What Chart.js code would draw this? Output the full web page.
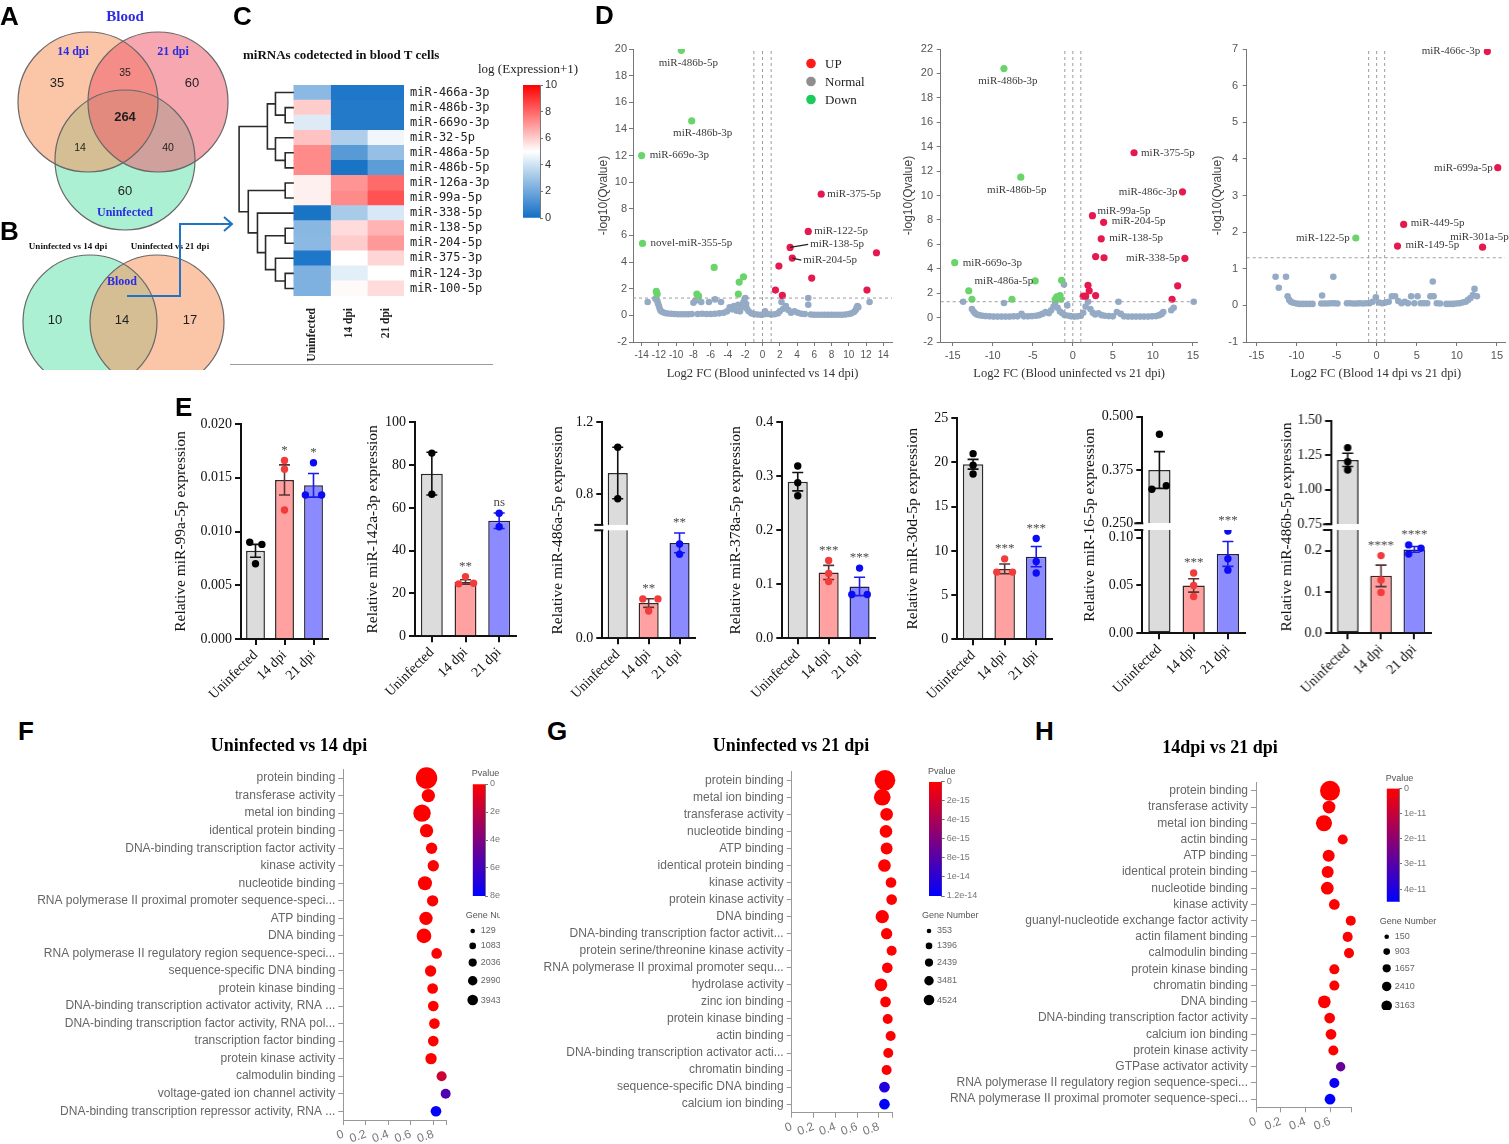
<!DOCTYPE html>
<html>
<head>
<meta charset="utf-8">
<title>miRNA figure</title>
<script src="https://cdn.jsdelivr.net/npm/chart.js@4.4.1/dist/chart.umd.min.js"></script>
<style>
  html, body { margin: 0; padding: 0; background: #fff; }
  #fig { position: relative; width: 1509px; height: 1144px; overflow: hidden; background: #fff; }
  #fig canvas { position: absolute; }
  .txt { position: absolute; white-space: nowrap; line-height: 1; }
  .panel { font: bold 26px "Liberation Sans", Arial, sans-serif; color: #000; }
  .ptitle { font: bold 18px "Liberation Serif", "Times New Roman", serif; color: #000; }
</style>
</head>
<body>
<div id="fig"></div>
<script>
// ---------- A: Venn of miRNAs detected in blood ----------
const vennASets = ['21 dpi', '14 dpi', 'Uninfected'];
const vennAX = [158, 88, 125];
const vennAY = [102, 102, 160];
const vennARadius = 70;
const vennACounts = [35, 35, 60, 264, 14, 40, 60]; // 14 only, 14&21, 21 only, all, 14&unin, 21&unin, unin only

// ---------- B: Venn of the two comparisons ----------
const vennBSets = ['Uninfected vs 21 dpi', 'Uninfected vs 14 dpi'];
const vennBX = [157, 90];
const vennBY = [322, 322];
const vennBRadius = 67;
const vennBCounts = [10, 14, 17];

// ---------- C: heatmap ----------
const heatRows = ['miR-466a-3p', 'miR-486b-3p', 'miR-669o-3p', 'miR-32-5p', 'miR-486a-5p', 'miR-486b-5p', 'miR-126a-3p',
  'miR-99a-5p', 'miR-338-5p', 'miR-138-5p', 'miR-204-5p', 'miR-375-3p', 'miR-124-3p', 'miR-100-5p'];
const heatCols = ['Uninfected', '14 dpi', '21 dpi'];
const heatUninfected = [2.6, 6.0, 4.3, 6.2, 7.3, 7.3, 5.3, 5.3, 0.2, 2.5, 2.6, 0.3, 2.3, 2.3];
const heat14dpi = [0.3, 0.4, 0.4, 3.3, 1.5, 0.2, 7.1, 7.3, 3.2, 5.7, 6.0, 5.0, 4.4, 5.1];
const heat21dpi = [0.3, 0.4, 0.4, 4.7, 2.8, 1.6, 7.9, 8.4, 4.2, 6.5, 7.0, 5.8, 5.0, 5.7];
const heatTicks = [0, 2, 4, 6, 8, 10];
// row clustering: [child a, child b, merge height]; new clusters get ids 14, 15, ...
const heatTree = [[1, 2, 0.235], [0, 14, 0.5], [4, 5, 0.235], [3, 16, 0.5], [15, 17, 0.72], [6, 7, 0.235],
  [9, 10, 0.235], [12, 13, 0.235], [11, 21, 0.5], [20, 22, 0.77], [8, 23, 0.99], [19, 24, 1.24], [18, 25, 1.49]];

// ---------- D: volcano plots ----------
const fcCut = [-1, 0, 1];
const qCut = 1.3;
const d1Up = [[6.8, 9.1], [5.3, 6.3], [3.2, 5.1], [3.45, 4.3], [13.2, 4.7], [1.9, 3.7], [5.7, 2.8], [1.5, 1.9], [2.3, 1.5], [12.1, 1.9]];
const d1UpNames = ['miR-375-5p', 'miR-122-5p', 'miR-138-5p', 'miR-204-5p', '', '', '', '', '', ''];
const d1Down = [[-9.4, 19.9], [-8.2, 14.6], [-14.0, 12.0], [-13.9, 5.4], [-5.6, 3.6], [-2.2, 2.9], [-2.7, 2.5], [-2.8, 1.6],
  [-12.3, 1.8], [-12.2, 1.6], [-7.6, 1.6], [-7.4, 1.45]];
const d1DownNames = ['miR-486b-5p', 'miR-486b-3p', 'miR-669o-3p', 'novel-miR-355-5p', '', '', '', '', '', '', '', ''];
const d1Normal = [[-13.3, 1.0], [-12.4, 1.25], [-12.2, 1.1], [-12.1, 0.9], [-12.0, 0.7], [-11.9, 0.5], [-11.8, 0.35], [-11.6, 0.25],
  [-11.3, 0.18], [-11.0, 0.14], [-10.6, 0.12], [-10.2, 0.1], [-9.8, 0.08], [-9.4, 0.08], [-9.0, 0.08], [-8.6, 0.08], [-8.2, 0.1],
  [-8.0, 0.95], [-7.8, 1.1], [-7.5, 0.1], [-7.1, 1.0], [-7.0, 0.12], [-6.5, 0.1], [-6.2, 1.0], [-6.0, 0.1], [-5.5, 1.2], [-5.5, 0.12],
  [-5.0, 0.15], [-4.8, 1.0], [-4.5, 0.2], [-4.1, 0.3], [-3.8, 0.6], [-3.5, 0.45], [-3.3, 0.7], [-3.0, 0.35], [-2.8, 0.8], [-2.6, 0.3],
  [-2.4, 0.6], [-2.2, 1.0], [-2.0, 1.3], [-1.9, 0.85], [-1.8, 0.5], [-1.6, 0.3], [-1.3, 0.15], [-1.0, 0.1], [-0.6, 0.06], [-0.2, 0.05],
  [0.2, 0.08], [0.3, 0.3], [0.6, 0.1], [1.0, 0.06], [1.4, 0.08], [1.8, 0.15], [2.0, 0.3], [2.2, 1.0], [2.4, 0.5], [2.7, 0.7], [3.0, 0.4],
  [3.3, 0.2], [3.7, 0.3], [4.1, 0.2], [4.5, 0.12], [4.9, 0.1], [5.3, 1.3], [5.3, 0.8], [5.6, 0.06], [6.0, 0.05], [6.4, 0.05], [6.8, 0.05],
  [7.2, 0.05], [7.6, 0.05], [8.0, 0.05], [8.4, 0.05], [8.8, 0.05], [9.2, 0.05], [9.6, 0.06], [10.0, 0.1], [10.3, 0.15], [10.6, 0.25],
  [10.8, 0.4], [10.9, 0.55], [11.0, 0.7], [11.1, 0.6], [12.4, 1.0]];
const d1XTicks = [-14, -12, -10, -8, -6, -4, -2, 0, 2, 4, 6, 8, 10, 12, 14];
const d1YTicks = [-2, 0, 2, 4, 6, 8, 10, 12, 14, 16, 18, 20];

const d2Up = [[7.65, 13.5], [13.7, 10.3], [2.45, 8.35], [3.85, 7.8], [3.55, 6.45], [14.0, 4.85], [2.85, 5.0], [3.9, 4.9], [1.9, 2.65],
  [2.05, 2.2], [1.3, 1.75], [1.6, 1.75], [2.85, 1.8], [13.1, 2.6], [12.4, 1.5]];
const d2UpNames = ['miR-375-5p', 'miR-486c-3p', 'miR-99a-5p', 'miR-204-5p', 'miR-138-5p', 'miR-338-5p', '', '', '', '', '', '', '', '', ''];
const d2Down = [[-8.6, 20.4], [-6.5, 11.5], [-14.75, 4.5], [-4.7, 3.0], [-1.4, 3.05], [-13.0, 2.2], [-12.6, 1.5], [-7.6, 1.5],
  [-2.2, 1.5], [-2.0, 1.7], [-1.8, 1.6], [-1.6, 1.8], [-1.5, 1.5]];
const d2DownNames = ['miR-486b-3p', 'miR-486b-5p', 'miR-669o-3p', 'miR-486a-5p', '', '', '', '', '', '', '', '', ''];
const d2Normal = [[-13.7, 1.3], [-12.6, 0.7], [-12.4, 0.5], [-12.2, 0.35], [-12.0, 0.25], [-11.7, 0.2], [-11.3, 0.15], [-10.9, 0.12],
  [-10.4, 0.1], [-9.9, 0.08], [-9.4, 0.08], [-8.9, 0.08], [-8.6, 1.2], [-8.4, 0.08], [-7.9, 0.08], [-7.4, 0.1], [-6.9, 0.1], [-6.4, 0.3],
  [-6.1, 0.1], [-5.6, 0.1], [-5.1, 0.12], [-4.6, 0.15], [-4.2, 0.2], [-3.8, 0.3], [-3.4, 0.45], [-3.0, 0.35], [-2.7, 0.6], [-2.4, 0.9],
  [-2.2, 1.2], [-1.9, 0.8], [-1.6, 0.5], [-1.3, 0.35], [-1.1, 2.7], [-1.0, 0.2], [-0.7, 1.0], [-0.5, 0.15], [-0.2, 0.1], [0.2, 0.08],
  [0.6, 0.1], [1.0, 0.15], [1.3, 0.4], [1.6, 0.9], [1.9, 1.3], [2.2, 0.7], [2.5, 0.4], [2.8, 0.25], [3.2, 0.35], [3.6, 0.2], [4.0, 0.15],
  [4.5, 0.12], [5.0, 0.1], [5.5, 0.45], [5.7, 1.3], [6.0, 0.3], [6.4, 0.1], [6.9, 0.08], [7.4, 0.08], [7.9, 0.08], [8.4, 0.08], [8.9, 0.08],
  [9.4, 0.08], [9.9, 0.1], [10.4, 0.12], [10.8, 0.2], [11.1, 0.3], [11.3, 0.45], [12.3, 0.6], [12.6, 0.8], [15.1, 1.3]];
const d2XTicks = [-15, -10, -5, 0, 5, 10, 15];
const d2YTicks = [-2, 0, 2, 4, 6, 8, 10, 12, 14, 16, 18, 20, 22];

const d3Up = [[13.8, 6.93], [15.1, 3.76], [3.37, 2.21], [2.6, 1.62], [13.2, 1.59]];
const d3UpNames = ['miR-466c-3p', 'miR-699a-5p', 'miR-449-5p', 'miR-149-5p', 'miR-301a-5p'];
const d3Down = [[-2.6, 1.84]];
const d3DownNames = ['miR-122-5p'];
const d3Normal = [[-12.6, 0.78], [-12.2, 0.48], [-11.3, 0.78], [-11.1, 0.25], [-10.9, 0.15], [-10.7, 0.1], [-10.4, 0.07], [-10.0, 0.05],
  [-9.6, 0.04], [-9.2, 0.04], [-8.8, 0.04], [-8.4, 0.04], [-8.0, 0.04], [-6.8, 0.27], [-6.9, 0.05], [-6.5, 0.05], [-6.1, 0.05],
  [-5.7, 0.06], [-5.4, 0.78], [-5.3, 0.06], [-4.9, 0.05], [-3.7, 0.06], [-3.3, 0.06], [-2.9, 0.05], [-2.5, 0.05], [-2.1, 0.06],
  [-1.7, 0.05], [-1.3, 0.06], [-0.9, 0.06], [-0.5, 0.1], [-0.1, 0.22], [0.3, 0.08], [0.7, 0.06], [1.1, 0.08], [1.5, 0.1], [1.9, 0.25],
  [2.3, 0.25], [2.7, 0.12], [3.1, 0.06], [3.5, 0.1], [3.9, 0.06], [4.3, 0.25], [4.7, 0.06], [5.1, 0.25], [5.5, 0.06], [5.9, 0.06],
  [6.3, 0.06], [6.7, 0.25], [7.0, 0.65], [7.1, 0.25], [7.5, 0.06], [7.9, 0.05], [8.7, 0.04], [9.1, 0.04], [9.5, 0.04], [9.9, 0.05],
  [10.3, 0.06], [10.7, 0.08], [11.1, 0.1], [11.4, 0.15], [11.7, 0.2], [12.0, 0.28], [12.2, 0.45], [12.5, 0.25]];
const d3XTicks = [-15, -10, -5, 0, 5, 10, 15];
const d3YTicks = [-1, 0, 1, 2, 3, 4, 5, 6, 7];

// ---------- E: qPCR bar charts ----------
const eGroups = ['Uninfected', '14 dpi', '21 dpi'];
const e1Mean = [0.0082, 0.0148, 0.0143], e1Sem = [0.0006, 0.0014, 0.0011];
const e1Pts = [[0.0090, 0.0088, 0.0070], [0.0166, 0.0158, 0.0120], [0.0164, 0.0134, 0.0134]];
const e1Sig = ['', '*', '*'];
const e1Ticks = [0, 0.005, 0.01, 0.015, 0.02];
const e2Mean = [76, 25.4, 54], e2Sem = [10, 1.0, 3.6];
const e2Pts = [[85.6, 66.4], [24.5, 27.9, 24.8], [57.5, 51.2]];
const e2Sig = ['', '**', 'ns'];
const e2Ticks = [0, 20, 40, 60, 80, 100];
const e3Mean = [0.918, 0.196, 0.53], e3Sem = [0.143, 0.024, 0.055];
const e3Pts = [[1.061, 0.775], [0.219, 0.219, 0.152], [0.524, 0.467]];
const e3Sig = ['', '**', '**'];
const e3Ticks = [0, 0.8, 1.2];
const e4Mean = [0.29, 0.122, 0.096], e4Sem = [0.017, 0.013, 0.017];
const e4Pts = [[0.319, 0.288, 0.264], [0.144, 0.12, 0.105], [0.13, 0.081, 0.081]];
const e4Sig = ['', '***', '***'];
const e4Ticks = [0, 0.1, 0.2, 0.3, 0.4];
const e5Mean = [19.8, 7.96, 9.35], e5Sem = [0.55, 0.55, 1.15];
const e5Pts = [[21.0, 19.7, 18.7], [9.1, 7.6, 7.6], [11.4, 8.8, 7.5]];
const e5Sig = ['', '***', '***'];
const e5Ticks = [0, 5, 10, 15, 20, 25];
const e6Mean = [0.375, 0.050, 0.083], e6Sem = [0.043, 0.007, 0.013];
const e6Pts = [[0.459, 0.33, 0.338], [0.063, 0.05, 0.0385], [0.107, 0.078, 0.066]];
const e6Sig = ['', '***', '***'];
const e6LowTicks = [0, 0.05, 0.1], e6HighTicks = [0.25, 0.375, 0.5];
const e7Mean = [1.216, 0.139, 0.203], e7Sem = [0.048, 0.026, 0.007];
const e7Pts = [[1.305, 1.203, 1.143], [0.188, 0.129, 0.099], [0.214, 0.192, 0.206]];
const e7Sig = ['', '****', '****'];
const e7LowTicks = [0, 0.1, 0.2], e7HighTicks = [0.75, 1.0, 1.25, 1.5];

// ---------- F/G/H: GO enrichment bubbles ----------
const goXTicks = [0, 0.2, 0.4, 0.6, 0.8];
const goFTerms = ['protein binding', 'transferase activity', 'metal ion binding', 'identical protein binding',
  'DNA-binding transcription factor activity', 'kinase activity', 'nucleotide binding',
  'RNA polymerase II proximal promoter sequence-speci...', 'ATP binding', 'DNA binding',
  'RNA polymerase II regulatory region sequence-speci...', 'sequence-specific DNA binding', 'protein kinase binding',
  'DNA-binding transcription activator activity, RNA ...', 'DNA-binding transcription factor activity, RNA pol...',
  'transcription factor binding', 'protein kinase activity', 'calmodulin binding', 'voltage-gated ion channel activity',
  'DNA-binding transcription repressor activity, RNA ...'];
const goFRatio = [0.74, 0.756, 0.70, 0.74, 0.785, 0.80, 0.726, 0.794, 0.735, 0.717, 0.83, 0.776, 0.794, 0.80, 0.81, 0.80, 0.78, 0.874, 0.91, 0.824];
const goFGenes = [3943, 964, 2282, 964, 435, 435, 1160, 435, 964, 1366, 277, 435, 277, 277, 277, 277, 435, 129, 129, 277];
const goFPval = [0, 0, 0, 0, 0, 0, 0, 0, 0, 0, 0, 0, 0, 0, 0, 0, 0, 1.6e-15, 5.5e-15, 7.9e-15];
const goFLegend = [129, 1083, 2036, 2990, 3943];
const goFPTicks = [0, 2e-15, 4e-15, 6e-15, 8e-15];

const goGTerms = ['protein binding', 'metal ion binding', 'transferase activity', 'nucleotide binding', 'ATP binding',
  'identical protein binding', 'kinase activity', 'protein kinase activity', 'DNA binding',
  'DNA-binding transcription factor activit...', 'protein serine/threonine kinase activity',
  'RNA polymerase II proximal promoter sequ...', 'hydrolase activity', 'zinc ion binding', 'protein kinase binding',
  'actin binding', 'DNA-binding transcription activator acti...', 'chromatin binding', 'sequence-specific DNA binding',
  'calcium ion binding'];
const goGRatio = [0.855, 0.83, 0.87, 0.864, 0.87, 0.85, 0.91, 0.916, 0.83, 0.87, 0.916, 0.876, 0.818, 0.86, 0.88, 0.907, 0.885, 0.87, 0.85, 0.85];
const goGGenes = [4524, 2620, 1124, 1124, 914, 1124, 529, 529, 1345, 716, 353, 529, 1124, 529, 353, 353, 353, 353, 529, 529];
const goGPval = [0, 0, 0, 0, 0, 0, 0, 0, 0, 0, 0, 0, 0, 0, 0, 0, 0, 0, 1.05e-14, 1.2e-14];
const goGLegend = [353, 1396, 2439, 3481, 4524];
const goGPTicks = [0, 2e-15, 4e-15, 6e-15, 8e-15, 1e-14, 1.2e-14];

const goHTerms = ['protein binding', 'transferase activity', 'metal ion binding', 'actin binding', 'ATP binding',
  'identical protein binding', 'nucleotide binding', 'kinase activity', 'guanyl-nucleotide exchange factor activity',
  'actin filament binding', 'calmodulin binding', 'protein kinase binding', 'chromatin binding', 'DNA binding',
  'DNA-binding transcription factor activity', 'calcium ion binding', 'protein kinase activity', 'GTPase activator activity',
  'RNA polymerase II regulatory region sequence-speci...', 'RNA polymerase II proximal promoter sequence-speci...'];
const goHRatio = [0.60, 0.592, 0.551, 0.703, 0.589, 0.581, 0.578, 0.635, 0.768, 0.743, 0.754, 0.635, 0.635, 0.554, 0.597, 0.608, 0.627, 0.686, 0.635, 0.60];
const goHGenes = [3163, 856, 1776, 274, 698, 698, 856, 407, 274, 274, 274, 274, 274, 856, 407, 407, 274, 150, 274, 407];
const goHPval = [0, 0, 0, 0, 0, 0, 0, 0, 0, 0, 0, 0, 0, 0, 0, 0, 0, 2.7e-11, 4.3e-11, 4.5e-11];
const goHLegend = [150, 903, 1657, 2410, 3163];
const goHPTicks = [0, 1e-11, 2e-11, 3e-11, 4e-11];

// ================= drawing =================
const SANS = '"Liberation Sans", Arial, sans-serif';
const SERIF = '"Liberation Serif", "Times New Roman", serif';
const MONO = '"DejaVu Sans Mono", monospace';
Chart.defaults.font.family = SANS;
Chart.defaults.animation = false;
Chart.defaults.responsive = false;
Chart.defaults.events = [];
Chart.defaults.plugins.legend.display = false;
Chart.defaults.plugins.tooltip.enabled = false;

const fig = document.getElementById('fig');
function canvasAt(left, top, w, h) {
  const c = document.createElement('canvas');
  c.width = w; c.height = h;
  Object.assign(c.style, {left: left + 'px', top: top + 'px', width: w + 'px', height: h + 'px'});
  fig.appendChild(c);
  return c;
}
function textAt(str, x, y, cls, css, center) {
  const d = document.createElement('div');
  d.className = 'txt ' + (cls || '');
  d.textContent = str;
  d.style.cssText += 'left:' + x + 'px;top:' + y + 'px;' + (css || '');
  d.style.transform = center ? 'translate(-50%,-50%)' : 'translateY(-50%)';
  fig.appendChild(d);
}
function lerp(a, b, t) { return a.map((v, i) => Math.round(v + (b[i] - v) * t)); }
function heatColor(v) {
  const blue = [16, 110, 196], white = [255, 255, 255], red = [255, 0, 0];
  const c = v <= 5 ? lerp(blue, white, Math.max(v, 0) / 5) : lerp(white, red, Math.min(v - 5, 5) / 5);
  return 'rgb(' + c.join(',') + ')';
}
function pColor(t) {
  const c = lerp([255, 0, 0], [0, 0, 255], Math.min(Math.max(t, 0), 1));
  return 'rgb(' + c.join(',') + ')';
}
function expFmt(v) { return v === 0 ? '0' : v.toExponential(1).replace('.0e', 'e'); }

// ---------- Venn diagrams (axes run in canvas pixels, so r is in the same units) ----------
function vennChart(cv, xr, yr, sets, xs, ys, rad, fills, decorate) {
  const fillSets = sets.map((s, i) => ({label: s, data: [{x: xs[i], y: ys[i], r: rad}], backgroundColor: fills[i],
    borderWidth: 0, order: 1 + i}));
  const outlines = sets.map((s, i) => ({label: s, data: [{x: xs[i], y: ys[i], r: rad}], backgroundColor: 'rgba(0,0,0,0)',
    borderColor: '#686868', borderWidth: 1.2, order: 0}));
  return new Chart(cv, {
    type: 'bubble',
    data: {datasets: outlines.concat(fillSets)},
    options: {
      layout: {padding: 0, autoPadding: false},
      scales: {
        x: {type: 'linear', display: false, min: xr[0], max: xr[1], bounds: 'data'},
        y: {type: 'linear', display: false, min: yr[0], max: yr[1], reverse: true, bounds: 'data'}
      }
    },
    plugins: [{id: 'vennDeco', afterDatasetsDraw: ch => decorate(ch)}]
  });
}
function putText(ch, str, vx, vy, font, color) {
  const {ctx, scales: {x, y}} = ch;
  ctx.font = font; ctx.fillStyle = color; ctx.textAlign = 'center'; ctx.textBaseline = 'middle';
  ctx.fillText(str, x.getPixelForValue(vx), y.getPixelForValue(vy));
}
const vennBlue = '#2b2be3';
const vennACountPos = [[57, 83], [125, 73], [192, 83], [125, 117], [80, 148], [168, 148], [125, 191]];
const vennACountSize = [13, 10.5, 13, 13, 10.5, 10.5, 13];
vennChart(canvasAt(0, 0, 235, 235), [0, 235], [0, 235], vennASets, vennAX, vennAY, vennARadius,
  ['rgba(238,95,110,0.55)', 'rgba(248,150,95,0.55)', 'rgb(172,240,212)'], ch => {
    ch.ctx.save();
    vennACounts.forEach((n, i) => putText(ch, String(n), vennACountPos[i][0], vennACountPos[i][1],
      (n === 264 ? 'bold ' : '') + vennACountSize[i] + 'px ' + SANS, '#1e1e1e'));
    putText(ch, 'Blood', 125, 17, 'bold 15px ' + SERIF, vennBlue);
    putText(ch, '14 dpi', 73, 52, 'bold 12px ' + SERIF, vennBlue);
    putText(ch, '21 dpi', 173, 52, 'bold 12px ' + SERIF, vennBlue);
    putText(ch, 'Uninfected', 125, 213, 'bold 12px ' + SERIF, vennBlue);
    ch.ctx.restore();
  });

const vennBCountPos = [[55, 320], [122, 320], [190, 320]];
const vennBArrow = [[127, 296], [180, 296], [180, 224], [232, 224]];
vennChart(canvasAt(0, 210, 240, 160), [0, 240], [210, 370], vennBSets, vennBX, vennBY, vennBRadius,
  ['rgba(248,150,95,0.55)', 'rgb(172,240,212)'], ch => {
    const {ctx, scales: {x, y}} = ch;
    ctx.save();
    vennBCounts.forEach((n, i) => putText(ch, String(n), vennBCountPos[i][0], vennBCountPos[i][1], '13px ' + SANS, '#1e1e1e'));
    putText(ch, 'Uninfected vs 14 dpi', 68, 247, 'bold 9px ' + SERIF, '#111');
    putText(ch, 'Uninfected vs 21 dpi', 170, 247, 'bold 9px ' + SERIF, '#111');
    putText(ch, 'Blood', 122, 282, 'bold 12px ' + SERIF, vennBlue);
    ctx.strokeStyle = '#1f74c6'; ctx.lineWidth = 2; ctx.lineJoin = 'miter';
    ctx.beginPath();
    vennBArrow.forEach((p, i) => {
      const px = x.getPixelForValue(p[0]), py = y.getPixelForValue(p[1]);
      if (i === 0) ctx.moveTo(px, py); else ctx.lineTo(px, py);
    });
    const end = vennBArrow[vennBArrow.length - 1];
    const ex = x.getPixelForValue(end[0]), ey = y.getPixelForValue(end[1]);
    ctx.moveTo(ex - 8, ey - 7); ctx.lineTo(ex, ey); ctx.lineTo(ex - 8, ey + 7);
    ctx.stroke();
    ctx.restore();
  });

// ---------- C: heatmap with row dendrogram ----------
const heatValues = [heatUninfected, heat14dpi, heat21dpi];
new Chart(canvasAt(230, 0, 270, 370), {
  type: 'bar',
  data: {
    labels: heatRows,
    datasets: heatCols.map((c, j) => ({
      label: c,
      data: heatRows.map(() => [j, j + 1]),
      backgroundColor: heatValues[j].map(heatColor),
      borderWidth: 0, borderSkipped: false, grouped: false, barPercentage: 1, categoryPercentage: 1
    }))
  },
  options: {
    indexAxis: 'y',
    layout: {padding: {left: 8, top: 85, right: 0, bottom: 0}},
    scales: {
      x: {type: 'linear', min: -1.52, max: 3,
        afterBuildTicks: s => { s.ticks = heatCols.map((c, j) => ({value: j + 0.5})); },
        ticks: {callback: v => heatCols[Math.floor(v)], minRotation: 90, maxRotation: 90,
          font: {family: SERIF, weight: 'bold', size: 11.5}, color: '#222', padding: 4},
        grid: {display: false}, border: {display: false},
        afterFit: s => { s.height = 74; }},
      y: {position: 'right', grid: {display: false, drawTicks: false}, border: {display: false},
        ticks: {autoSkip: false, font: {family: MONO, size: 12}, color: '#222', padding: 6},
        afterFit: s => { s.width = 96; }}
    }
  },
  plugins: [{
    id: 'dendro',
    afterDatasetsDraw(ch) {
      const {ctx, scales: {x, y}} = ch;
      const nodes = heatRows.map((r, i) => ({px: x.getPixelForValue(0), py: y.getPixelForValue(i)}));
      ctx.save();
      ctx.strokeStyle = '#2a2a2a'; ctx.lineWidth = 1.6;
      heatTree.forEach(([a, b, h]) => {
        const hx = x.getPixelForValue(-h), A = nodes[a], B = nodes[b];
        ctx.beginPath();
        ctx.moveTo(A.px, A.py); ctx.lineTo(hx, A.py); ctx.lineTo(hx, B.py); ctx.lineTo(B.px, B.py);
        ctx.stroke();
        nodes.push({px: hx, py: (A.py + B.py) / 2});
      });
      ctx.strokeStyle = '#9a9a9a'; ctx.lineWidth = 1;
      ctx.beginPath(); ctx.moveTo(0, 364.5); ctx.lineTo(263, 364.5); ctx.stroke();
      ctx.restore();
    }
  }]
});

// ---------- colour bars ----------
function colorBar(cv, cb) {
  return new Chart(cv, {
    type: 'bar',
    data: {labels: [''], datasets: [{
      data: [[cb.min, cb.max]], borderWidth: 0, barPercentage: 1, categoryPercentage: 1,
      backgroundColor: ctx => {
        const ch = ctx.chart, ys = ch.scales.y;
        if (!ys || !ch.chartArea) return 'rgba(0,0,0,0)';
        const g = ch.ctx.createLinearGradient(0, ys.getPixelForValue(cb.min), 0, ys.getPixelForValue(cb.max));
        for (let k = 0; k <= 20; k++) g.addColorStop(k / 20, cb.colorAt(cb.min + (cb.max - cb.min) * k / 20));
        return g;
      }
    }]},
    options: {
      layout: {padding: cb.pad},
      scales: {
        x: {display: false},
        y: {position: 'right', min: cb.min, max: cb.max, reverse: !!cb.reverse,
          afterBuildTicks: s => { s.ticks = cb.ticks.map(t => ({value: t})); },
          ticks: {callback: cb.fmt, font: cb.font, color: cb.color, padding: 2},
          grid: {drawOnChartArea: false, tickLength: 3, color: '#777'}, border: {color: '#777'},
          afterFit: s => { s.width = cb.axisW; }}
      }
    },
    plugins: cb.deco ? [{id: 'cbDeco', afterDraw: cb.deco}] : []
  });
}
colorBar(canvasAt(505, 75, 70, 155), {
  min: 0, max: 10, ticks: heatTicks, colorAt: heatColor, fmt: v => String(v),
  font: {size: 11}, color: '#333', pad: {left: 18, top: 10, bottom: 12, right: 0}, axisW: 35
});

// ---------- D: volcano plots ----------
const upColor = '#e5194f', downColor = '#69d46a', normalColor = '#94aac5';
const d1Place = {'miR-486b-5p': [7, 13, 'center'], 'miR-486b-3p': [11, 12, 'center'], 'miR-669o-3p': [8, 0, 'left'],
  'novel-miR-355-5p': [8, 0, 'left'], 'miR-375-5p': [6, 0, 'left'], 'miR-122-5p': [6, 0, 'left'],
  'miR-138-5p': [20, -3, 'left', 1], 'miR-204-5p': [11, 2, 'left', 1]};
const d2Place = {'miR-486b-3p': [4, 13, 'center'], 'miR-486b-5p': [-4, 13, 'center'], 'miR-669o-3p': [8, 0, 'left'],
  'miR-486a-5p': [-2, 0, 'right'], 'miR-375-5p': [7, 0, 'left'], 'miR-486c-3p': [-5, 0, 'right'], 'miR-99a-5p': [5, -5, 'left'],
  'miR-204-5p': [8, -1, 'left'], 'miR-138-5p': [8, -1, 'left'], 'miR-338-5p': [-5, 0, 'right']};
const d3Place = {'miR-466c-3p': [-7, 0, 'right'], 'miR-699a-5p': [-5, 0, 'right'], 'miR-449-5p': [7, -1, 'left'],
  'miR-149-5p': [8, -1, 'left'], 'miR-301a-5p': [-3, -10, 'center'], 'miR-122-5p': [-6, 0, 'right']};

function volcano(v) {
  const b = v.box;
  const cv = canvasAt(b.left, 30, b.w, 360);
  const pts = a => a.map(p => ({x: p[0], y: p[1]}));
  const yMin = v.yTicks[0], yMax = v.yTicks[v.yTicks.length - 1];
  const dash = (p, q) => ({type: 'line', data: [p, q], borderColor: '#9d9d9d', borderWidth: 1, borderDash: [3, 3],
    pointRadius: 0, order: 0});
  const datasets = [
    {label: 'UP', data: pts(v.up), backgroundColor: upColor, pointRadius: 3.6, borderWidth: 0, order: 1},
    {label: 'Normal', data: pts(v.normal), backgroundColor: normalColor, pointRadius: 3.3, borderWidth: 0, order: 2},
    {label: 'Down', data: pts(v.down), backgroundColor: downColor, pointRadius: 3.6, borderWidth: 0, order: 1}
  ];
  fcCut.forEach(c => datasets.push(dash({x: c, y: yMin}, {x: c, y: yMax})));
  datasets.push(dash({x: v.xMin, y: qCut}, {x: v.xMax, y: qCut}));
  new Chart(cv, {
    type: 'scatter',
    data: {datasets},
    options: {
      layout: {padding: {top: 19, right: b.left + b.w - b.chartRight, left: 0, bottom: 0}},
      scales: {
        x: {type: 'linear', min: v.xMin, max: v.xMax, bounds: 'data',
          afterBuildTicks: s => { s.ticks = v.xTicks.map(t => ({value: t})); },
          ticks: {callback: t => String(t), font: {size: b.xTickSize}, color: '#555', padding: 3, maxRotation: 0, autoSkip: false},
          grid: {drawOnChartArea: false, tickLength: 4, color: '#777'}, border: {color: '#777'},
          title: {display: true, text: v.xTitle, font: {family: SERIF, size: 12.5}, color: '#333', padding: {top: 2, bottom: 9}},
          afterFit: s => { s.height = 48; }},
        y: {type: 'linear', min: yMin, max: yMax, bounds: 'data',
          afterBuildTicks: s => { s.ticks = v.yTicks.map(t => ({value: t})); },
          ticks: {callback: t => String(t), font: {size: 11}, color: '#555', padding: b.tickPad, autoSkip: false},
          grid: {drawOnChartArea: false, tickLength: 4, color: '#777'}, border: {color: '#777'},
          title: {display: true, text: '-log10(Qvalue)', font: {size: 12}, color: '#444', padding: {top: b.titlePad}},
          afterFit: s => { s.width = b.chartLeft - b.left; }}
      }
    },
    plugins: [{
      id: 'volcanoLabels',
      afterDatasetsDraw(ch) {
        const {ctx, scales: {x, y}, chartArea: a} = ch;
        ctx.save();
        ctx.font = '11px ' + SERIF; ctx.fillStyle = '#3a3a3a'; ctx.textBaseline = 'middle';
        ctx.strokeStyle = '#222'; ctx.lineWidth = 1.2;
        [[v.up, v.upNames], [v.down, v.downNames]].forEach(([arr, names]) => {
          arr.forEach((p, i) => {
            const nm = names[i];
            if (!nm || !v.place[nm]) return;
            const [dx, dy, align, lead] = v.place[nm];
            const X = x.getPixelForValue(p[0]), Y = y.getPixelForValue(p[1]);
            if (lead) { ctx.beginPath(); ctx.moveTo(X, Y); ctx.lineTo(X + dx - 2, Y + dy); ctx.stroke(); }
            ctx.textAlign = align;
            ctx.fillText(nm, X + dx, Y + dy);
          });
        });
        if (v.legend) {
          const items = [['UP', '#ff1a1a'], ['Normal', '#8e8e8e'], ['Down', '#1ccb5b']];
          ctx.font = '13px ' + SERIF; ctx.textAlign = 'left';
          items.forEach(([lab, col], k) => {
            const ly = a.top + 14.5 + k * 18;
            ctx.fillStyle = col; ctx.beginPath(); ctx.arc(a.right - 81, ly, 4.8, 0, Math.PI * 2); ctx.fill();
            ctx.fillStyle = '#222'; ctx.fillText(lab, a.right - 67, ly + 1);
          });
        }
        ctx.restore();
      }
    }]
  });
}
volcano({box: {left: 590, w: 310, chartLeft: 633, chartRight: 892, tickPad: 2, titlePad: 6, xTickSize: 10},
  up: d1Up, upNames: d1UpNames, down: d1Down, downNames: d1DownNames, normal: d1Normal, place: d1Place,
  xMin: -15, xMax: 15, xTicks: d1XTicks, yTicks: d1YTicks, xTitle: 'Log2 FC (Blood uninfected vs 14 dpi)', legend: true});
volcano({box: {left: 900, w: 305, chartLeft: 940.7, chartRight: 1197.7, tickPad: 3.7, titlePad: 1, xTickSize: 11},
  up: d2Up, upNames: d2UpNames, down: d2Down, downNames: d2DownNames, normal: d2Normal, place: d2Place,
  xMin: -16.5, xMax: 15.6, xTicks: d2XTicks, yTicks: d2YTicks, xTitle: 'Log2 FC (Blood uninfected vs 21 dpi)'});
volcano({box: {left: 1200, w: 309, chartLeft: 1246.7, chartRight: 1506.7, tickPad: 4.7, titlePad: 10, xTickSize: 11},
  up: d3Up, upNames: d3UpNames, down: d3Down, downNames: d3DownNames, normal: d3Normal, place: d3Place,
  xMin: -16.2, xMax: 16, xTicks: d3XTicks, yTicks: d3YTicks, xTitle: 'Log2 FC (Blood 14 dpi vs 21 dpi)'});

// ---------- E: bar charts with replicate dots ----------
const barFill = ['#dcdcdc', '#ffa1a1', '#8b8bff'];
const barEdge = ['#2b2b2b', '#3a2626', '#20204a'];
const dotColor = ['#000000', '#f23b3b', '#0b0bf5'];
const errColor = ['#111111', '#5a3434', '#1b1bf0'];

function barPanel(p) {
  const b = p.box;
  const W = b.right - b.left + 14;
  const cv = canvasAt(b.left, 400, W, 315);
  const broken = p.segs.length > 1;
  const yid = k => broken ? 'y' + k : 'y';
  const segOf = v => (broken && v > p.segs[0].max) ? 1 : 0;
  const datasets = [];
  p.segs.forEach((s, k) => {
    datasets.push({
      type: 'bar', label: 'mean', yAxisID: yid(k), order: 2, grouped: false,
      data: p.mean.map(m => !broken ? m : (m <= s.min ? null : [s.min, Math.min(m, s.max)])),
      backgroundColor: barFill, borderColor: barEdge, borderWidth: 1.5,
      borderSkipped: ctx => (broken && p.mean[ctx.dataIndex] > s.max) ? 'top' : 'start',
      barPercentage: 0.65, categoryPercentage: 1
    });
  });
  p.pts.forEach((vals, c) => {
    p.segs.forEach((s, k) => {
      const data = vals.map((v, i) => ({x: c + p.jit[c][i], y: v})).filter(q => !broken || segOf(q.y) === k);
      if (data.length) datasets.push({type: 'scatter', label: eGroups[c], xAxisID: 'xp', yAxisID: yid(k), order: 0,
        data, backgroundColor: dotColor[c], pointRadius: 3.7, borderWidth: 0});
    });
  });
  const titleOpts = {display: true, text: p.title, font: {family: SERIF, size: 15.5}, color: '#111', padding: {top: 8}};
  const scales = {
    x: {type: 'category', labels: eGroups, offset: true,
      grid: {offset: false, drawOnChartArea: false, tickLength: 6, lineWidth: 2, color: '#111'},
      border: {color: '#111', width: 2},
      ticks: {minRotation: 45, maxRotation: 45, font: {family: SERIF, size: 14}, color: '#111', padding: 2, autoSkip: false},
      afterFit: s => { s.height = 715 - b.bottom; }},
    // hidden linear twin of the category axis, used to spread replicate dots around each bar
    xp: {type: 'linear', display: false, min: -0.5, max: 2.5, bounds: 'data', offset: false, grid: {offset: false}}
  };
  p.segs.forEach((s, k) => {
    scales[yid(k)] = Object.assign({
      type: 'linear', position: 'left', min: s.min, max: s.max, bounds: 'data',
      afterBuildTicks: sc => { sc.ticks = s.ticks.map(t => ({value: t})); },
      ticks: {callback: t => t.toFixed(s.dec), font: {family: SERIF, size: 14}, color: '#111', padding: 3, autoSkip: false},
      grid: {drawOnChartArea: false, tickLength: 6, lineWidth: 2, color: '#111'},
      border: {color: '#111', width: 2},
      title: broken ? {display: false} : titleOpts,
      afterFit: sc => { sc.width = broken ? b.axisX - b.left - 25 : b.axisX - b.left; }
    }, broken ? {stack: 'brk', stackWeight: s.h, weight: k === 0 ? 1 : 3} : {});
  });
  if (broken) {
    scales.yGap = {type: 'linear', position: 'left', stack: 'brk', stackWeight: p.gapH, weight: 2,
      ticks: {display: false}, grid: {display: false}, border: {display: false}};
    scales.yTitle = {type: 'linear', position: 'left', weight: 10, ticks: {display: false}, grid: {display: false},
      border: {display: false}, title: titleOpts, afterFit: sc => { sc.width = 25; }};
  }
  function drawErr(ch) {
    const ctx = ch.ctx, xs = ch.scales.x;
    ctx.save(); ctx.lineWidth = 1.6;
    p.mean.forEach((m, c) => {
      const ys = ch.scales[yid(segOf(m))];
      const X = xs.getPixelForValue(c);
      const t = ys.getPixelForValue(m + p.sem[c]), bt = ys.getPixelForValue(m - p.sem[c]);
      ctx.strokeStyle = errColor[c];
      ctx.beginPath();
      ctx.moveTo(X, t); ctx.lineTo(X, bt);
      ctx.moveTo(X - 5.5, t); ctx.lineTo(X + 5.5, t);
      ctx.moveTo(X - 5.5, bt); ctx.lineTo(X + 5.5, bt);
      ctx.stroke();
    });
    ctx.restore();
  }
  function drawSig(ch) {
    const ctx = ch.ctx, xs = ch.scales.x;
    ctx.save(); ctx.font = '13px ' + SERIF; ctx.fillStyle = '#4a4a4a'; ctx.textAlign = 'center'; ctx.textBaseline = 'alphabetic';
    p.sig.forEach((s, c) => {
      if (!s) return;
      const top = Math.max(p.mean[c] + p.sem[c], ...p.pts[c]);
      const ys = ch.scales[yid(segOf(top))];
      ctx.fillText(s, xs.getPixelForValue(c), ys.getPixelForValue(top) - 7);
    });
    ctx.restore();
  }
  function drawBreak(ch) {
    const ctx = ch.ctx, a = ch.chartArea;
    let yTop, yBot;
    ctx.save();
    if (broken) {
      yTop = ch.scales.y1.bottom; yBot = ch.scales.y0.top;
    } else if (p.mask) {
      const ys = ch.scales.y;
      yTop = ys.getPixelForValue(p.mask[1]); yBot = ys.getPixelForValue(p.mask[0]);
      ctx.fillStyle = '#fff'; ctx.fillRect(a.left - 9, yTop, a.right - a.left + 9, yBot - yTop);
    } else { ctx.restore(); return; }
    ctx.strokeStyle = '#111'; ctx.lineWidth = 2;
    [yTop, yBot].forEach(yy => { ctx.beginPath(); ctx.moveTo(a.left - 8, yy); ctx.lineTo(a.left + 1, yy); ctx.stroke(); });
    ctx.restore();
  }
  new Chart(cv, {
    type: 'bar',
    data: {labels: eGroups, datasets},
    options: {layout: {padding: {top: b.top - 400, right: 14, left: 0, bottom: 0}}, scales},
    plugins: [{
      id: 'eDeco',
      beforeDatasetsDraw(ch) { ch.$err = false; },
      beforeDatasetDraw(ch, args) { if (!ch.$err && args.meta.type === 'scatter') { ch.$err = true; drawErr(ch); } },
      afterDatasetsDraw(ch) { if (!ch.$err) drawErr(ch); drawSig(ch); drawBreak(ch); }
    }]
  });
}
const ePanels = [
  {box: {left: 164, axisX: 241, top: 424, bottom: 639, right: 328}, title: 'Relative miR-99a-5p expression',
    mean: e1Mean, sem: e1Sem, pts: e1Pts, sig: e1Sig, jit: [[-0.2, 0.22, 0], [0, 0, 0], [0, -0.28, 0.28]],
    segs: [{min: 0, max: 0.02, ticks: e1Ticks, dec: 3}]},
  {box: {left: 356, axisX: 415, top: 422.3, bottom: 636.3, right: 516}, title: 'Relative miR-142a-3p expression',
    mean: e2Mean, sem: e2Sem, pts: e2Pts, sig: e2Sig, jit: [[0, 0], [-0.2, 0, 0.24], [0, 0]],
    segs: [{min: 0, max: 100, ticks: e2Ticks, dec: 0}]},
  {box: {left: 541, axisX: 602.3, top: 422.3, bottom: 638.3, right: 695}, title: 'Relative miR-486a-5p expression',
    mean: e3Mean, sem: e3Sem, pts: e3Pts, sig: e3Sig, jit: [[0, 0], [-0.19, 0.3, 0], [0, 0]], mask: [0.6, 0.63],
    segs: [{min: 0, max: 1.2, ticks: e3Ticks, dec: 1}]},
  {box: {left: 719, axisX: 782.3, top: 422.3, bottom: 638.3, right: 875}, title: 'Relative miR-378a-5p expression',
    mean: e4Mean, sem: e4Sem, pts: e4Pts, sig: e4Sig, jit: [[0, 0, 0], [0, 0, 0], [0, -0.25, 0.25]],
    segs: [{min: 0, max: 0.4, ticks: e4Ticks, dec: 1}]},
  {box: {left: 896, axisX: 957.3, top: 418.3, bottom: 639.3, right: 1052}, title: 'Relative miR-30d-5p expression',
    mean: e5Mean, sem: e5Sem, pts: e5Pts, sig: e5Sig, jit: [[0, 0, 0], [0, -0.25, 0.25], [0, 0, 0]],
    segs: [{min: 0, max: 25, ticks: e5Ticks, dec: 0}]},
  {box: {left: 1073, axisX: 1142.3, top: 416.7, bottom: 633.3, right: 1245}, title: 'Relative miR-16-5p expression',
    mean: e6Mean, sem: e6Sem, pts: e6Pts, sig: e6Sig, jit: [[0, -0.22, 0.2], [0, 0, 0], [0, 0, 0]], gapH: 6.7,
    segs: [{min: 0, max: 0.108, ticks: e6LowTicks, dec: 2, h: 103.3}, {min: 0.25, max: 0.5, ticks: e6HighTicks, dec: 3, h: 106.6}]},
  {box: {left: 1270, axisX: 1330.7, top: 420.7, bottom: 633.3, right: 1430.7}, title: 'Relative miR-486b-5p expression',
    mean: e7Mean, sem: e7Sem, pts: e7Pts, sig: e7Sig, jit: [[0, 0, 0], [0, 0, 0], [-0.17, -0.17, 0.2]], gapH: 5.7,
    segs: [{min: 0, max: 0.25, ticks: e7LowTicks, dec: 1, h: 103.3}, {min: 0.75, max: 1.5, ticks: e7HighTicks, dec: 2, h: 103.6}]}
];
ePanels.forEach(barPanel);

// ---------- F/G/H: GO bubbles ----------
function bubbleR(n, legend, rr) {
  const lo = legend[0], hi = legend[legend.length - 1];
  return Math.sqrt(rr[0] * rr[0] + (rr[1] * rr[1] - rr[0] * rr[0]) * (n - lo) / (hi - lo));
}
function goBubble(g) {
  const b = g.box;
  const ticks = goXTicks.filter(t => t <= g.xMax).concat([g.xMax]);
  new Chart(canvasAt(b.left, b.top, b.w, b.h), {
    type: 'bubble',
    data: {datasets: [{
      label: g.name,
      data: g.terms.map((t, i) => ({x: g.ratio[i], y: t, r: bubbleR(g.genes[i], g.legend, g.rr)})),
      backgroundColor: g.pval.map(v => pColor(v / g.pMax)),
      borderWidth: 0,
      clip: false
    }]},
    options: {
      layout: {padding: {top: b.chartTop - b.top, right: b.left + b.w - b.chartRight, left: 0, bottom: 0}, autoPadding: false},
      scales: {
        x: {type: 'linear', min: 0, max: g.xMax, bounds: 'data',
          afterBuildTicks: s => { s.ticks = ticks.map(v => ({value: v})); },
          ticks: {callback: v => goXTicks.includes(v) ? (v === 0 ? '0' : v.toFixed(1)) : '', autoSkip: false,
            minRotation: 20, maxRotation: 20, font: {size: 12}, color: '#777', padding: 2},
          grid: {drawOnChartArea: false, tickLength: 5, color: '#999'}, border: {color: '#999'},
          afterFit: s => { s.height = b.top + b.h - b.chartBottom; }},
        y: {type: 'category', labels: g.terms, offset: true,
          ticks: {autoSkip: false, font: {size: 12}, color: '#666', padding: 3},
          grid: {drawOnChartArea: false, tickLength: 5, color: '#999'}, border: {color: '#999'},
          afterFit: s => { s.width = b.chartLeft - b.left; }}
      }
    }
  });
  const L = g.legendBox;
  colorBar(canvasAt(L.left, L.top, L.w, L.h), {
    min: 0, max: g.pMax, reverse: true, ticks: g.pTicks, colorAt: v => pColor(v / g.pMax), fmt: expFmt,
    font: {size: 9}, color: '#777', axisW: L.axisW,
    pad: {left: L.barLeft - L.left, top: L.barTop - L.top, bottom: L.top + L.h - L.barBottom, right: 0},
    deco: ch => {
      const {ctx, chartArea: a} = ch;
      ctx.save();
      ctx.font = '9px ' + SANS; ctx.textBaseline = 'middle'; ctx.textAlign = 'left';
      ctx.fillStyle = '#555';
      ctx.fillText('Pvalue', a.left - 1, a.top - 10);
      ctx.fillText('Gene Number', a.left - 7, a.bottom + 20);
      let yy = a.bottom + 35, prev = 0;
      g.legend.forEach((n, k) => {
        const r = bubbleR(n, g.legend, [2.3, 5.3]);
        if (k > 0) yy += prev + r + 9.3;
        ctx.fillStyle = '#000'; ctx.beginPath(); ctx.arc(a.left, yy, r, 0, Math.PI * 2); ctx.fill();
        ctx.fillStyle = '#666'; ctx.fillText(String(n), a.left + 8, yy);
        prev = r;
      });
      ctx.restore();
    }
  });
}
goBubble({name: 'Uninfected vs 14 dpi', terms: goFTerms, ratio: goFRatio, genes: goFGenes, pval: goFPval, legend: goFLegend,
  pTicks: goFPTicks, pMax: 8e-15, xMax: 0.913, rr: [5, 10.7],
  box: {left: 0, top: 755, w: 460, h: 389, chartLeft: 343.3, chartRight: 446, chartTop: 769.3, chartBottom: 1120},
  legendBox: {left: 462, top: 765, w: 38, h: 245, barLeft: 472.7, barTop: 784, barBottom: 896, axisW: 15}});
goBubble({name: 'Uninfected vs 21 dpi', terms: goGTerms, ratio: goGRatio, genes: goGGenes, pval: goGPval, legend: goGLegend,
  pTicks: goGPTicks, pMax: 1.2e-14, xMax: 0.922, rr: [5, 10.3],
  box: {left: 530, top: 755, w: 380, h: 389, chartLeft: 791.7, chartRight: 892.3, chartTop: 771.7, chartBottom: 1112.7},
  legendBox: {left: 915, top: 760, w: 80, h: 250, barLeft: 929, barTop: 781.7, barBottom: 896, axisW: 53.3}});
goBubble({name: '14dpi vs 21 dpi', terms: goHTerms, ratio: goHRatio, genes: goHGenes, pval: goHPval, legend: goHLegend,
  pTicks: goHPTicks, pMax: 4.5e-11, xMax: 0.77, rr: [4.7, 10],
  box: {left: 950, top: 760, w: 420, h: 384, chartLeft: 1256, chartRight: 1351, chartTop: 782.7, chartBottom: 1107.3},
  legendBox: {left: 1375, top: 765, w: 70, h: 245, barLeft: 1386.7, barTop: 788.3, barBottom: 901.7, axisW: 46}});

// ---------- text: panel letters and titles ----------
textAt('A', 0, 16, 'panel');
textAt('B', 0, 231, 'panel');
textAt('C', 233, 16, 'panel');
textAt('D', 595, 15, 'panel');
textAt('E', 175, 407, 'panel');
textAt('F', 18, 731, 'panel');
textAt('G', 547, 731, 'panel');
textAt('H', 1035, 731, 'panel');
textAt('miRNAs codetected in blood T cells', 243, 55, '', 'font:bold 13px ' + SERIF + ';color:#111;');
textAt('log (Expression+1)', 478, 69, '', 'font:13px ' + SERIF + ';color:#222;');
textAt('Uninfected vs 14 dpi', 289, 745, 'ptitle', '', true);
textAt('Uninfected vs 21 dpi', 791, 745, 'ptitle', '', true);
textAt('14dpi vs 21 dpi', 1220, 747, 'ptitle', '', true);
</script>
</body>
</html>
